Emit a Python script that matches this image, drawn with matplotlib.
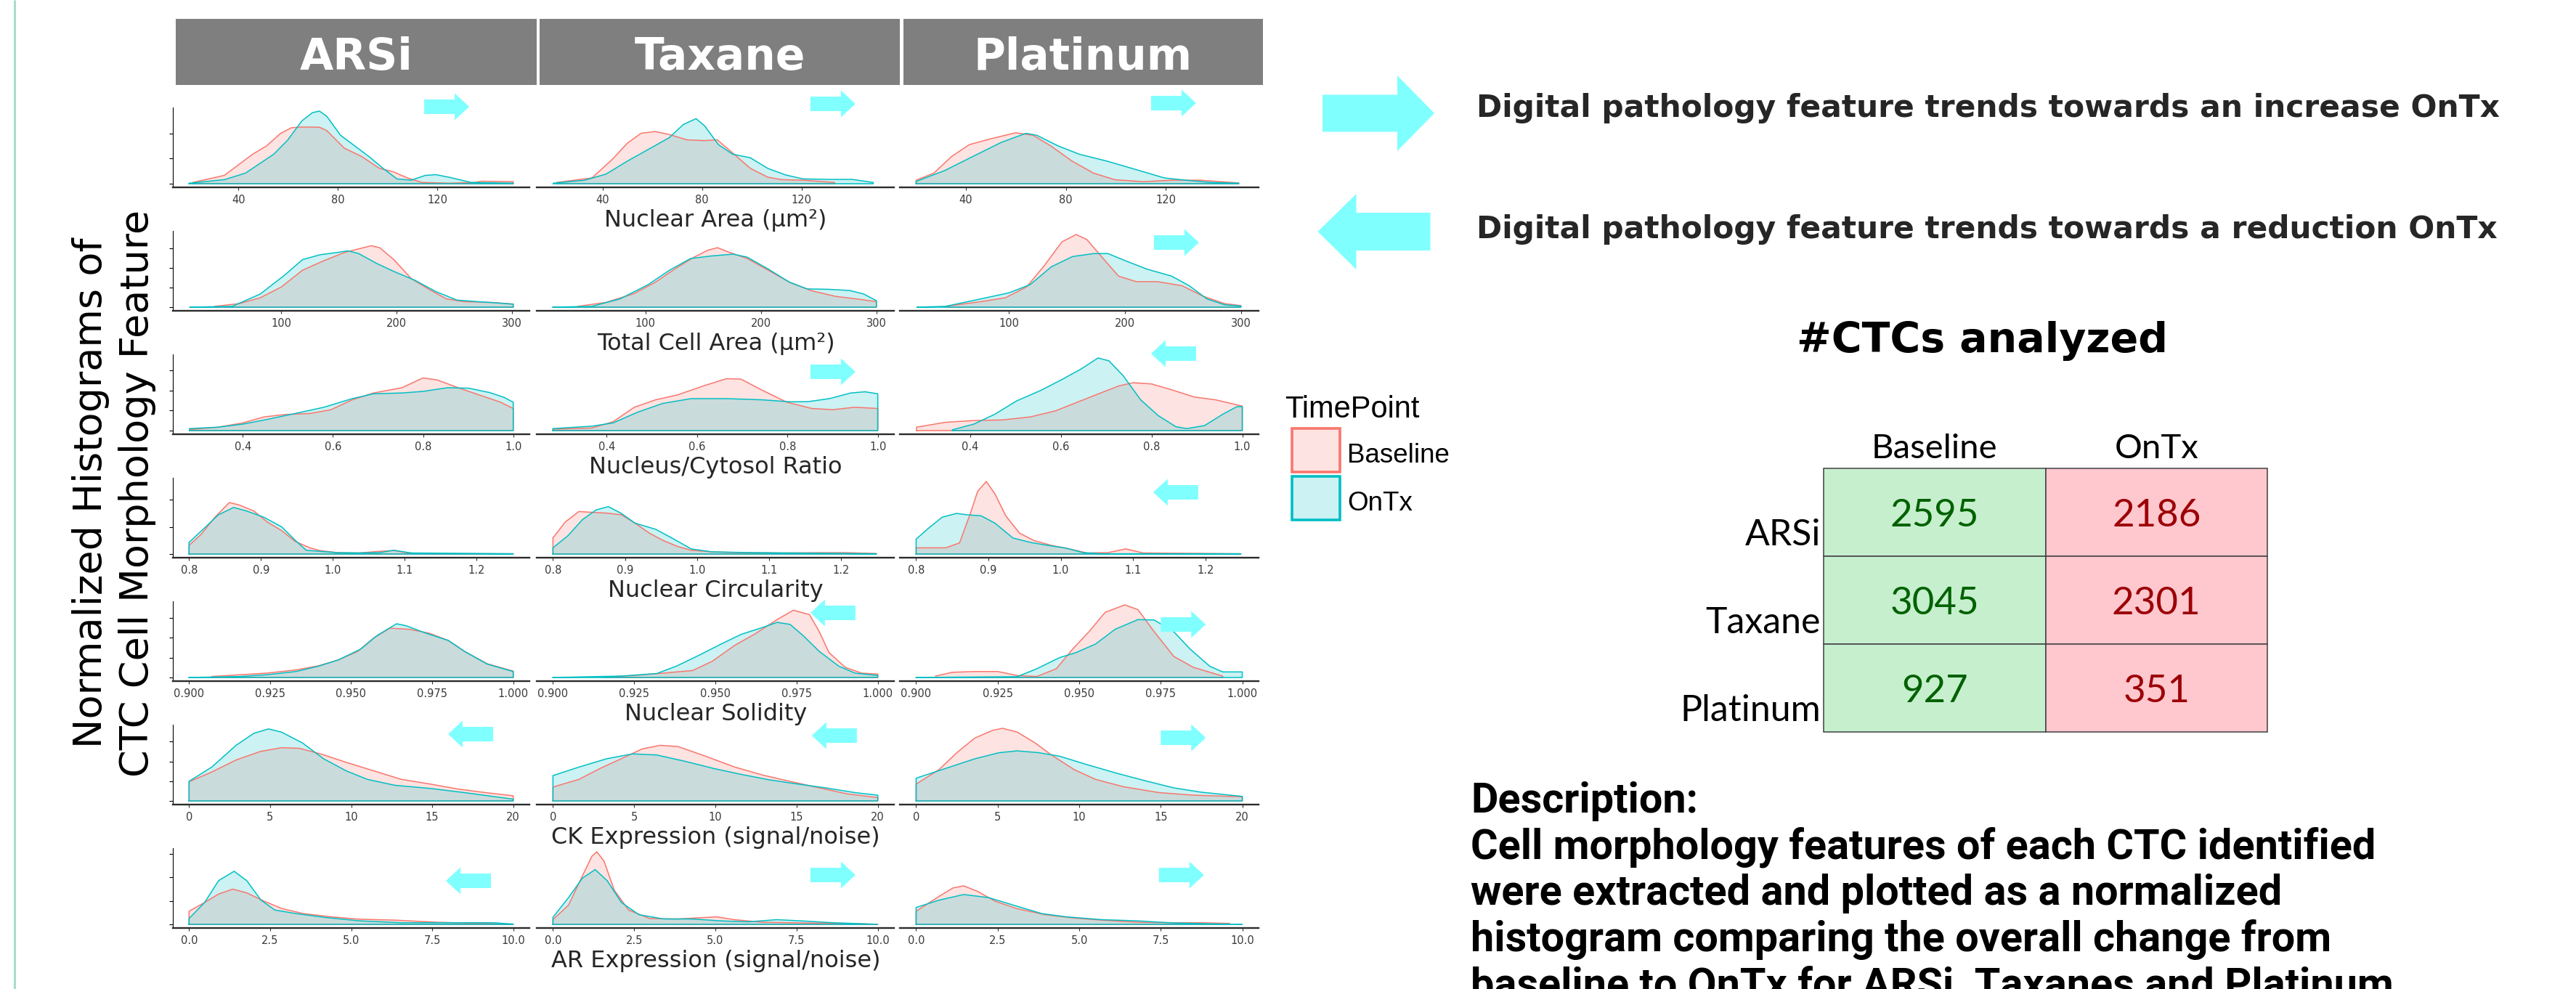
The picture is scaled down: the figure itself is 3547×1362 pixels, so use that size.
import numpy as np
import matplotlib
matplotlib.use('Agg')
import matplotlib.pyplot as plt
from matplotlib.patches import Polygon, Rectangle

# canvas in pixels
W, H = 3547, 1362
BASE_COLOR = '#F8766D'
ONTX_COLOR = '#00BFC4'
ARROW_COLOR = '#80FFFF'

DRUGS = ['ARSi', 'Taxane', 'Platinum']
TIMEPOINTS = ['Baseline', 'OnTx']

# density curves, (x, density in y-tick units)
NUCLEAR_AREA = {
    'ARSi': {
        'Baseline': [(21.6, 0.05), (34.3, 0.33), (45.7, 1.17), (51.3, 1.5), (57.0, 2.0), (61.3, 2.22), (66.0, 2.25),
                     (72.6, 2.24), (75.5, 2.11), (82.6, 1.41), (89.6, 1.08), (96.7, 0.61), (102.4, 0.47), (108.0, 0.23),
                     (113.8, 0.05), (125.0, 0.02), (135.0, 0.05), (138.0, 0.1), (150.6, 0.08)],
        'OnTx': [(20.1, 0.02), (34.3, 0.16), (42.8, 0.42), (54.2, 1.17), (59.9, 1.74), (65.5, 2.49), (69.8, 2.82),
                 (72.6, 2.88), (75.5, 2.68), (81.1, 1.92), (86.8, 1.5), (92.5, 1.08), (98.2, 0.61), (103.8, 0.19),
                 (109.5, 0.14), (115.2, 0.33), (119.4, 0.36), (125.1, 0.25), (133.6, 0.05), (150.6, 0.02)],
    },
    'Taxane': {
        'Baseline': [(21.6, 0.05), (35.8, 0.23), (44.2, 0.99), (49.9, 1.6), (55.5, 2.0), (61.2, 2.07), (66.9, 1.95),
                     (73.9, 1.74), (81.0, 1.71), (86.1, 1.74), (92.3, 1.22), (99.4, 0.61), (106.4, 0.26), (112.1, 0.16),
                     (120.6, 0.14), (133.3, 0.05)],
        'OnTx': [(20.2, 0.02), (32.9, 0.14), (41.4, 0.38), (49.9, 0.89), (58.4, 1.36), (66.9, 1.83), (72.5, 2.35),
                 (77.6, 2.58), (81.0, 2.3), (86.6, 1.55), (92.3, 1.17), (99.4, 1.03), (106.4, 0.61), (113.5, 0.35),
                 (120.6, 0.19), (131.9, 0.17), (140.4, 0.17), (148.8, 0.05)],
    },
    'Platinum': {
        'Baseline': [(20.1, 0.14), (27.2, 0.42), (34.3, 1.08), (41.4, 1.55), (49.9, 1.78), (59.9, 2.02), (66.9, 1.92),
                     (74.0, 1.5), (82.6, 0.89), (91.1, 0.42), (99.6, 0.16), (111.0, 0.08), (122.3, 0.14), (133.6, 0.14),
                     (142.1, 0.08), (149.2, 0.03)],
        'OnTx': [(20.1, 0.09), (31.5, 0.52), (42.8, 1.08), (54.2, 1.64), (64.1, 2.0), (68.4, 1.92), (76.9, 1.5),
                 (85.4, 1.17), (96.7, 0.89), (108.1, 0.56), (119.4, 0.23), (127.9, 0.14), (137.9, 0.05), (149.2, 0.02)],
    },
}

TOTAL_CELL_AREA = {
    'ARSi': {
        'Baseline': [(42, 0.04), (63.4, 0.18), (81.7, 0.48), (100, 1.03), (118.3, 1.88), (136.6, 2.36), (154.9, 2.79),
                     (167.1, 2.97), (178, 3.13), (185.4, 3.03), (197.6, 2.42), (212.8, 1.45), (228, 0.91),
                     (243.3, 0.42), (258.5, 0.28), (282.9, 0.24), (301.2, 0.16)],
        'OnTx': [(20.7, 0.0), (57.3, 0.04), (81.7, 0.67), (103, 1.64), (118.3, 2.42), (133.5, 2.67), (148.8, 2.79),
                 (157.9, 2.87), (167.1, 2.73), (182.3, 2.24), (197.6, 1.82), (215.9, 1.37), (234.2, 0.79),
                 (252.4, 0.36), (270.7, 0.28), (286, 0.22), (301.2, 0.15)],
    },
    'Taxane': {
        'Baseline': [(41.3, 0.04), (65.7, 0.24), (90.2, 0.69), (108.6, 1.27), (126.9, 2.0), (142.2, 2.55),
                     (154.4, 2.91), (162.4, 3.03), (172.8, 2.79), (188.1, 2.48), (206.4, 1.88), (224.8, 1.27),
                     (243.1, 0.85), (264.5, 0.55), (282.9, 0.42), (300, 0.28)],
        'OnTx': [(19.9, 0.0), (53.5, 0.04), (78, 0.42), (102.4, 1.15), (120.8, 1.88), (139.1, 2.48), (157.5, 2.61),
                 (175.8, 2.7), (188.1, 2.55), (206.4, 1.94), (224.8, 1.27), (240, 0.93), (258.4, 0.91),
                 (276.8, 0.85), (289, 0.67), (300, 0.33)],
    },
    'Platinum': {
        'Baseline': [(45.1, 0.04), (75.6, 0.28), (96.9, 0.48), (115.2, 1.03), (130.5, 2.12), (145.7, 3.33),
                     (157.9, 3.7), (167.1, 3.45), (179.3, 2.61), (194.5, 1.58), (209.8, 1.3), (228, 1.3),
                     (249.4, 1.09), (267.7, 0.55), (286, 0.18), (300, 0.08)],
        'OnTx': [(20.7, 0.0), (45.1, 0.04), (75.6, 0.42), (100, 0.73), (118.3, 1.15), (136.6, 2.06), (154.9, 2.58),
                 (173.2, 2.73), (185.4, 2.73), (200.6, 2.36), (218.9, 1.94), (240.3, 1.58), (255.5, 1.09),
                 (270.7, 0.42), (286, 0.12), (300, 0.06)],
    },
}

NC_RATIO = {
    'ARSi': {
        'Baseline': [(0.282, 0.05), (0.345, 0.17), (0.4, 0.38), (0.447, 0.68), (0.494, 0.8), (0.549, 0.85),
                     (0.596, 1.04), (0.643, 1.53), (0.69, 1.87), (0.753, 2.13), (0.8, 2.62), (0.831, 2.52),
                     (0.878, 2.13), (0.925, 1.77), (0.972, 1.41), (1.0, 1.1)],
        'OnTx': [(0.282, 0.1), (0.345, 0.17), (0.4, 0.32), (0.455, 0.56), (0.51, 0.82), (0.58, 1.16), (0.643, 1.59),
                 (0.69, 1.83), (0.753, 1.87), (0.8, 1.95), (0.854, 2.13), (0.901, 2.11), (0.948, 1.89),
                 (0.98, 1.65), (1.0, 1.41)],
    },
    'Taxane': {
        'Baseline': [(0.281, 0.07), (0.367, 0.13), (0.414, 0.44), (0.461, 1.16), (0.508, 1.53), (0.556, 1.77),
                     (0.618, 2.25), (0.665, 2.58), (0.697, 2.56), (0.744, 2.01), (0.799, 1.41), (0.854, 1.1),
                     (0.901, 1.04), (0.948, 1.16), (1.0, 1.1)],
        'OnTx': [(0.281, 0.1), (0.367, 0.22), (0.414, 0.38), (0.469, 0.92), (0.524, 1.35), (0.587, 1.59),
                 (0.665, 1.59), (0.744, 1.53), (0.807, 1.43), (0.846, 1.44), (0.893, 1.59), (0.94, 1.87),
                 (0.972, 1.93), (1.0, 1.83)],
    },
    'Platinum': {
        'Baseline': [(0.282, 0.17), (0.345, 0.41), (0.408, 0.5), (0.471, 0.53), (0.533, 0.68), (0.588, 0.98),
                     (0.643, 1.47), (0.69, 1.89), (0.729, 2.23), (0.76, 2.38), (0.8, 2.32), (0.847, 2.01),
                     (0.894, 1.67), (0.941, 1.53), (1.0, 1.22)],
        'OnTx': [(0.361, 0.04), (0.408, 0.32), (0.455, 0.82), (0.502, 1.47), (0.557, 2.01), (0.604, 2.56),
                 (0.643, 3.04), (0.682, 3.61), (0.706, 3.47), (0.737, 2.74), (0.776, 1.53), (0.815, 0.74),
                 (0.854, 0.19), (0.878, 0.1), (0.917, 0.25), (0.956, 0.8), (0.988, 1.19), (1.0, 1.19)],
    },
}

CIRCULARITY = {
    'ARSi': {
        'Baseline': [(0.8, 0.32), (0.817, 0.73), (0.836, 1.36), (0.856, 1.9), (0.87, 1.81), (0.89, 1.59),
                     (0.909, 1.18), (0.929, 0.86), (0.948, 0.46), (0.968, 0.23), (0.982, 0.13), (1.007, 0.05),
                     (1.036, 0.04), (1.065, 0.1), (1.085, 0.13), (1.104, 0.04), (1.134, 0.01), (1.251, 0.01)],
        'OnTx': [(0.8, 0.43), (0.821, 0.95), (0.841, 1.45), (0.862, 1.72), (0.88, 1.59), (0.904, 1.36), (0.929, 1.0),
                 (0.948, 0.5), (0.963, 0.14), (0.982, 0.1), (1.007, 0.05), (1.036, 0.04), (1.065, 0.05),
                 (1.085, 0.14), (1.109, 0.04), (1.251, 0.01)],
    },
    'Taxane': {
        'Baseline': [(0.8, 0.59), (0.817, 1.18), (0.836, 1.57), (0.854, 1.54), (0.875, 1.51), (0.895, 1.45),
                     (0.914, 1.14), (0.934, 0.77), (0.953, 0.5), (0.973, 0.28), (0.992, 0.14), (1.021, 0.08),
                     (1.06, 0.05), (1.119, 0.04), (1.168, 0.05), (1.207, 0.05), (1.249, 0.02)],
        'OnTx': [(0.8, 0.23), (0.821, 0.68), (0.841, 1.27), (0.86, 1.63), (0.877, 1.75), (0.895, 1.5), (0.914, 1.14),
                 (0.943, 0.91), (0.968, 0.55), (0.992, 0.19), (1.021, 0.08), (1.08, 0.05), (1.249, 0.01)],
    },
    'Platinum': {
        'Baseline': [(0.8, 0.23), (0.841, 0.23), (0.86, 0.41), (0.875, 1.5), (0.885, 2.31), (0.897, 2.68),
                     (0.909, 2.22), (0.924, 1.41), (0.943, 0.77), (0.963, 0.5), (0.987, 0.32), (1.012, 0.19),
                     (1.036, 0.04), (1.065, 0.05), (1.09, 0.19), (1.114, 0.04), (1.249, 0.01)],
        'OnTx': [(0.8, 0.55), (0.817, 0.95), (0.836, 1.36), (0.856, 1.5), (0.87, 1.45), (0.89, 1.41), (0.909, 1.14),
                 (0.934, 0.59), (0.958, 0.43), (0.982, 0.32), (1.007, 0.22), (1.031, 0.05), (1.056, 0.01),
                 (1.249, 0.01)],
    },
}

SOLIDITY = {
    'ARSi': {
        'Baseline': [(0.907, 0.05), (0.916, 0.14), (0.924, 0.22), (0.933, 0.38), (0.94, 0.59), (0.946, 0.88),
                     (0.952, 1.31), (0.957, 1.99), (0.962, 2.48), (0.968, 2.42), (0.974, 2.23), (0.98, 1.86),
                     (0.985, 1.31), (0.992, 0.69), (1.0, 0.32)],
        'OnTx': [(0.9, 0.0), (0.916, 0.05), (0.924, 0.14), (0.933, 0.3), (0.94, 0.57), (0.946, 0.88), (0.953, 1.43),
                 (0.958, 2.11), (0.964, 2.7), (0.967, 2.6), (0.973, 2.23), (0.98, 1.86), (0.985, 1.31),
                 (0.992, 0.67), (1.0, 0.3)],
    },
    'Taxane': {
        'Baseline': [(0.916, 0.02), (0.925, 0.1), (0.934, 0.22), (0.943, 0.35), (0.949, 0.81), (0.956, 1.62),
                     (0.962, 2.17), (0.969, 2.91), (0.974, 3.38), (0.979, 3.16), (0.982, 2.3), (0.985, 1.25),
                     (0.99, 0.51), (0.995, 0.22), (1.0, 0.17)],
        'OnTx': [(0.9, 0.0), (0.921, 0.07), (0.932, 0.2), (0.938, 0.57), (0.945, 1.12), (0.952, 1.7), (0.958, 2.17),
                 (0.965, 2.54), (0.969, 2.77), (0.973, 2.67), (0.977, 2.11), (0.982, 1.31), (0.988, 0.57),
                 (0.993, 0.22), (1.0, 0.1)],
    },
    'Platinum': {
        'Baseline': [(0.906, 0.07), (0.911, 0.26), (0.918, 0.3), (0.925, 0.3), (0.931, 0.1), (0.937, 0.05),
                     (0.943, 0.44), (0.948, 1.43), (0.953, 2.3), (0.958, 3.28), (0.964, 3.65), (0.968, 3.41),
                     (0.973, 2.3), (0.979, 1.06), (0.985, 0.51), (0.994, 0.07)],
        'OnTx': [(0.9, 0.0), (0.931, 0.04), (0.937, 0.44), (0.944, 1.0), (0.949, 1.25), (0.955, 1.68), (0.961, 2.42),
                 (0.968, 2.91), (0.973, 2.89), (0.979, 2.3), (0.984, 1.43), (0.99, 0.57), (0.994, 0.28),
                 (1.0, 0.28)],
    },
}

CK_EXPRESSION = {
    'ARSi': {
        'Baseline': [(0, 0.97), (1.4, 1.46), (2.9, 2.07), (4.4, 2.5), (5.7, 2.69), (6.8, 2.66), (8.1, 2.38),
                     (9.7, 1.95), (11.4, 1.52), (13.1, 1.09), (14.9, 0.85), (16.6, 0.6), (18.3, 0.42), (20, 0.26)],
        'OnTx': [(0, 0.99), (1.4, 1.71), (2.9, 2.81), (4.0, 3.42), (4.9, 3.64), (5.7, 3.48), (7.0, 2.93),
                 (8.3, 2.13), (9.7, 1.52), (11.0, 1.09), (12.7, 0.79), (14.9, 0.63), (17.0, 0.42), (20, 0.09)],
    },
    'Taxane': {
        'Baseline': [(0, 0.7), (1.6, 1.09), (2.9, 1.64), (4.2, 2.13), (5.5, 2.63), (6.6, 2.81), (7.7, 2.75),
                     (9.4, 2.26), (11.2, 1.71), (12.9, 1.31), (14.7, 0.97), (16.4, 0.66), (18.1, 0.36), (20, 0.17)],
        'OnTx': [(0, 1.28), (1.6, 1.71), (3.3, 2.13), (4.9, 2.38), (6.4, 2.32), (8.1, 2.01), (9.9, 1.64),
                 (11.6, 1.34), (13.3, 1.07), (15.1, 0.85), (16.8, 0.66), (18.6, 0.42), (20, 0.29)],
    },
    'Platinum': {
        'Baseline': [(0, 0.85), (1.4, 1.58), (2.5, 2.44), (3.6, 3.18), (4.7, 3.57), (5.3, 3.67), (6.2, 3.48),
                     (7.3, 2.93), (8.3, 2.32), (9.7, 1.58), (11.0, 1.09), (12.7, 0.72), (14.9, 0.42), (17.0, 0.29),
                     (20, 0.21)],
        'OnTx': [(0, 1.15), (1.8, 1.64), (3.6, 2.13), (5.1, 2.44), (6.2, 2.53), (7.5, 2.44), (8.8, 2.26),
                 (10.5, 1.83), (12.3, 1.4), (14.0, 1.03), (15.8, 0.66), (17.5, 0.44), (20, 0.23)],
    },
}

AR_EXPRESSION = {
    'ARSi': {
        'Baseline': [(0, 0.56), (0.48, 0.93), (0.91, 1.29), (1.35, 1.5), (1.78, 1.34), (2.33, 0.98), (2.87, 0.67),
                     (3.52, 0.46), (4.39, 0.32), (5.26, 0.22), (6.35, 0.18), (7.65, 0.09), (8.96, 0.04), (10, 0.01)],
        'OnTx': [(0, 0.25), (0.48, 0.93), (0.91, 1.86), (1.39, 2.26), (1.78, 1.86), (2.22, 1.03), (2.65, 0.61),
                 (3.3, 0.46), (4.17, 0.3), (5.26, 0.15), (6.57, 0.07), (8.09, 0.07), (9.39, 0.07), (10, 0.01)],
    },
    'Taxane': {
        'Baseline': [(0, 0.2), (0.48, 0.82), (0.91, 2.07), (1.2, 2.9), (1.35, 3.09), (1.57, 2.7), (1.89, 1.45),
                     (2.33, 0.61), (2.98, 0.25), (3.85, 0.23), (4.5, 0.28), (5.04, 0.32), (5.59, 0.2), (6.46, 0.09),
                     (7.76, 0.06), (9.39, 0.03), (10, 0.0)],
        'OnTx': [(0, 0.3), (0.48, 1.14), (0.91, 1.97), (1.3, 2.33), (1.67, 1.86), (2.11, 0.93), (2.65, 0.41),
                 (3.41, 0.23), (4.28, 0.23), (5.15, 0.15), (6.02, 0.11), (6.89, 0.2), (7.76, 0.14), (8.63, 0.07),
                 (10, 0.0)],
    },
    'Platinum': {
        'Baseline': [(0, 0.56), (0.7, 1.19), (1.13, 1.55), (1.46, 1.64), (1.89, 1.4), (2.43, 0.98), (3.09, 0.67),
                     (3.96, 0.41), (4.83, 0.27), (5.7, 0.18), (6.78, 0.09), (7.87, 0.07), (8.74, 0.07), (9.61, 0.04)],
        'OnTx': [(0, 0.72), (0.7, 1.03), (1.46, 1.27), (2.22, 1.14), (2.98, 0.82), (3.85, 0.46), (4.61, 0.32),
                 (5.7, 0.2), (6.78, 0.15), (7.87, 0.06), (9.17, 0.02), (10, 0.0)],
    },
}

FEATURE_TITLES = ['Nuclear Area (\u03bcm\u00b2)', 'Total Cell Area (\u03bcm\u00b2)', 'Nucleus/Cytosol Ratio',
                  'Nuclear Circularity', 'Nuclear Solidity', 'CK Expression (signal/noise)',
                  'AR Expression (signal/noise)']
FEATURE_DATA = [NUCLEAR_AREA, TOTAL_CELL_AREA, NC_RATIO, CIRCULARITY, SOLIDITY, CK_EXPRESSION, AR_EXPRESSION]
X_TICKS = [[40, 80, 120], [100, 200, 300], [0.4, 0.6, 0.8, 1.0], [0.8, 0.9, 1.0, 1.1, 1.2],
           [0.9, 0.925, 0.95, 0.975, 1.0], [0, 5, 10, 15, 20], [0, 2.5, 5, 7.5, 10]]
X_TICKLABELS = [['40', '80', '120'], ['100', '200', '300'], ['0.4', '0.6', '0.8', '1.0'],
                ['0.8', '0.9', '1.0', '1.1', '1.2'], ['0.900', '0.925', '0.950', '0.975', '1.000'],
                ['0', '5', '10', '15', '20'], ['0.0', '2.5', '5.0', '7.5', '10.0']]

# trend arrows per feature row / drug: '+' increase, '-' reduction
TRENDS = [['+', '+', '+'], [None, None, '+'], [None, '+', '-'], [None, None, '-'],
          [None, '-', '+'], ['-', '-', '+'], ['-', '+', '+']]

# CTC counts table
COUNT_ROWS = ['ARSi', 'Taxane', 'Platinum']
COUNT_COLS = ['Baseline', 'OnTx']
BASELINE_COUNTS = [2595, 3045, 927]
ONTX_COUNTS = [2186, 2301, 351]

DESCRIPTION = ['Description:',
               'Cell morphology features of each CTC identified',
               'were extracted and plotted as a normalized',
               'histogram comparing the overall change from',
               'baseline to OnTx for ARSi, Taxanes and Platinum']

# ---------------- layout (pixels) ----------------
PANEL_COLS = [(238, 729), (739, 1231), (1239, 1733)]
HEADER_COLS = [(242, 739), (743, 1239), (1244, 1739)]
ROW_TOP0, ROW_STEP, PANEL_H = 148, 170, 110
# arrow spot inside each panel: (fraction of panel width, pixels below panel top)
ARROW_SPOTS = [[(0.768, -1), (0.829, -5), (0.763, -6)],
               [None, None, (0.771, 16)],
               [None, (0.829, 24), (0.763, -1)],
               [None, None, (0.769, 20)],
               [None, (0.829, 16), (0.790, 32)],
               [(0.835, 13), (0.833, 15), (0.790, 18)],
               [(0.829, 45), (0.829, 37), (0.785, 37)]]


def px_box(x0, y0, x1, y1):
    return [x0 / W, 1 - y1 / H, (x1 - x0) / W, (y1 - y0) / H]


def block_arrow(ax, cx, cy, direction, length, height, shaft, head):
    s = 1 if direction == '+' else -1
    tail, tip = cx - s * length / 2, cx + s * length / 2
    neck = tip - s * head
    pts = [(tail, cy - shaft / 2), (neck, cy - shaft / 2), (neck, cy - height / 2), (tip, cy),
           (neck, cy + height / 2), (neck, cy + shaft / 2), (tail, cy + shaft / 2)]
    ax.add_patch(Polygon(pts, closed=True, fc=ARROW_COLOR, ec='none'))


fig = plt.figure(figsize=(W / 100, H / 100), dpi=100)
fig.patch.set_facecolor('white')

# overlay axes in pixel coordinates for annotations
ov = fig.add_axes([0, 0, 1, 1])
ov.set_xlim(0, W)
ov.set_ylim(H, 0)
ov.axis('off')
ov.set_zorder(10)

# density panels
for r, curves in enumerate(FEATURE_DATA):
    top = ROW_TOP0 + r * ROW_STEP
    allx = np.concatenate([np.array(curves[d][t])[:, 0] for d in DRUGS for t in TIMEPOINTS])
    ymax = max(np.array(curves[d][t])[:, 1].max() for d in DRUGS for t in TIMEPOINTS)
    xmin, xmax = allx.min(), allx.max()
    pad = 0.05 * (xmax - xmin)
    for c, drug in enumerate(DRUGS):
        x0, x1 = PANEL_COLS[c]
        ax = fig.add_axes(px_box(x0, top, x1, top + PANEL_H))
        for tp, color in zip(TIMEPOINTS, [BASE_COLOR, ONTX_COLOR]):
            pts = np.array(curves[drug][tp])
            xs, ys = pts[:, 0], pts[:, 1]
            ax.fill_between(xs, 0, ys, color=color, alpha=0.2, lw=0)
            ax.plot(np.r_[xs[0], xs, xs[-1], xs[0]], np.r_[0, ys, 0, 0], color=color, lw=1.1)
        ax.set_xlim(xmin - pad, xmax + pad)
        ax.set_ylim(-0.05 * ymax, 1.05 * ymax)
        ax.set_xticks(X_TICKS[r])
        ax.set_xticklabels(X_TICKLABELS[r])
        ax.tick_params(axis='x', length=3, width=0.8, color='#333333', labelsize=10.5,
                       labelcolor='#3a3a3a', pad=4)
        for side in ['top', 'right']:
            ax.spines[side].set_visible(False)
        ax.spines['bottom'].set_linewidth(1.7)
        ax.spines['bottom'].set_color('#2b2b2b')
        if c == 0:
            ax.spines['left'].set_linewidth(0.8)
            ax.spines['left'].set_color('black')
            ax.set_yticks(range(int(ymax) + 1))
            ax.set_yticklabels([])
            ax.tick_params(axis='y', length=3.6, width=0.8, color='black')
        else:
            ax.spines['left'].set_visible(False)
            ax.tick_params(axis='y', left=False, labelleft=False)
        spot = ARROW_SPOTS[r][c]
        if TRENDS[r][c] and spot:
            block_arrow(ov, x0 + spot[0] * (x1 - x0), top + spot[1], TRENDS[r][c], 62, 37, 20, 20)
    ov.text((PANEL_COLS[0][0] + PANEL_COLS[-1][1]) / 2, top + 164, FEATURE_TITLES[r],
            ha='center', va='baseline', fontsize=23, color='#262626')

# column headers
for (hx0, hx1), drug in zip(HEADER_COLS, DRUGS):
    ov.add_patch(Rectangle((hx0, 26), hx1 - hx0, 91, fc='#7f7f7f', ec='none'))
    ov.text((hx0 + hx1) / 2, 96, drug, ha='center', va='baseline', fontsize=43,
            fontweight='bold', color='white')

# left rule and y label
ov.plot([20, 20], [0, H], color='#a9dcc9', lw=2.2, solid_capstyle='butt')
ov.text(125, 679, 'Normalized Histograms of', rotation=90, ha='center', va='center',
        fontsize=39, color='black')
ov.text(189, 679, 'CTC Cell Morphology Feature', rotation=90, ha='center', va='center',
        fontsize=39, color='black')

# legend
ov.text(1769, 575, 'TimePoint', ha='left', va='baseline', fontsize=30, family='Liberation Sans')
for i, (tp, color) in enumerate(zip(TIMEPOINTS, [BASE_COLOR, ONTX_COLOR])):
    ky = 588 + i * 66
    ov.add_patch(Rectangle((1779, ky + 2), 66, 60, fc=matplotlib.colors.to_rgba(color, 0.2),
                           ec=color, lw=2.6))
    ov.text(1855, ky + 49, tp, ha='left', va='baseline', fontsize=26.5, family='Liberation Sans')

# legend of trend arrows
block_arrow(ov, 1898, 156, '+', 154, 104, 51, 51)
block_arrow(ov, 1892, 319, '-', 155, 104, 52, 53)
ov.text(2033, 161, 'Digital pathology feature trends towards an increase OnTx', ha='left',
        va='baseline', fontsize=30.5, fontweight='bold', color='#262626')
ov.text(2033, 328, 'Digital pathology feature trends towards a reduction OnTx', ha='left',
        va='baseline', fontsize=30.5, fontweight='bold', color='#262626')

# CTC count table
ov.text(2729, 485, '#CTCs analyzed', ha='center', va='baseline', fontsize=41,
        fontweight='bold', color='black')
TX0, TY0, CW, RH = 2511, 645, 305.5, 121
for j, name in enumerate(COUNT_COLS):
    ov.text(TX0 + CW * (j + 0.5), TY0 - 14, name, ha='center', va='baseline', fontsize=34, family='Lato')
for i, name in enumerate(COUNT_ROWS):
    cy = TY0 + i * RH
    ov.text(TX0 - 4, cy + 106, name, ha='right', va='baseline', fontsize=36, family='Lato')
    for j, (vals, fc, tc) in enumerate([(BASELINE_COUNTS, '#C6EFCE', '#006100'),
                                         (ONTX_COUNTS, '#FFC7CE', '#9C0006')]):
        ov.add_patch(Rectangle((TX0 + j * CW, cy), CW, RH, fc=fc, ec='#404040', lw=1.1))
        ov.text(TX0 + CW * (j + 0.5), cy + 80, str(vals[i]), ha='center', va='baseline',
                fontsize=38, color=tc, family='Lato')

# description
for k, line in enumerate(DESCRIPTION):
    ov.text(2025, 1119 + k * 63.7, line, ha='left', va='baseline', fontsize=41.5,
            fontweight='bold', family='Roboto', color='black')

fig.savefig('out.png', dpi=100)
